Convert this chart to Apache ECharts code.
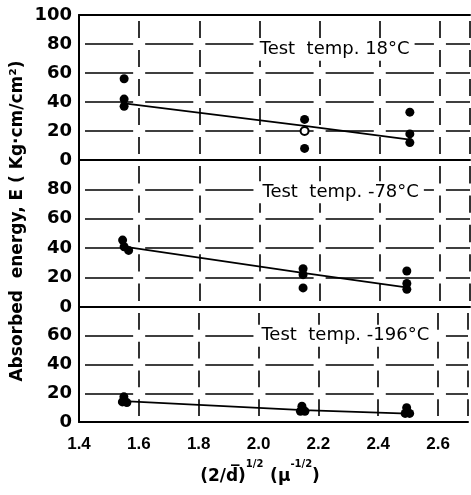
<!DOCTYPE html>
<html><head><meta charset="utf-8">
<script src="https://cdn.jsdelivr.net/npm/echarts@6/dist/echarts.min.js"></script>
<style>html,body{margin:0;padding:0;background:#fff}#c{width:471px;height:495px}</style>
</head><body><div id="c"></div>
<script>
// ---- data ----
const xMin = 1.4, xMax = 2.7, xStep = 0.2;
const panelMax = [100, 100, 80];
const panelTitles = ['Test  temp. 18°C', 'Test  temp. -78°C', 'Test  temp. -196°C'];
const titleX = [2.25, 2.27, 2.29];
const titleY = [76, 78, 60];

const dots18 = [[1.55, 56], [1.55, 42], [1.55, 37], [2.15, 28], [2.15, 8], [2.5, 33], [2.5, 18], [2.5, 12]];
const open18 = [[2.15, 20]];
const fit18 = [[1.55, 39], [2.15, 23.5], [2.5, 14]];

const dots78 = [[1.545, 45.5], [1.55, 41], [1.565, 38.5], [2.145, 26], [2.145, 22], [2.145, 13], [2.49, 24.5], [2.49, 16], [2.49, 12]];
const fit78 = [[1.55, 41], [2.15, 23], [2.5, 13]];

const dots196 = [[1.55, 17.5], [1.545, 14], [1.56, 13.5], [2.145, 11], [2.14, 7.5], [2.155, 7.5], [2.495, 10], [2.49, 6], [2.505, 6]];
const fit196 = [[1.55, 14.5], [2.15, 8.3], [2.5, 5.8]];

// ---- layout ----
const gLeft = 79, gRight = 1;
const grids = [{top: 15, height: 145}, {top: 160, height: 147}, {top: 307, height: 115}];
const gWidth = 471 - gLeft - gRight;
const cellW = gWidth / ((xMax - xMin) / xStep);
const ink = '#000';
const numFont = 'DejaVu Sans';

const option = {
  animation: false,
  backgroundColor: '#fff',
  grid: grids.map(g => ({left: gLeft, right: gRight, top: g.top, height: g.height})),
  xAxis: [],
  yAxis: [],
  series: [],
  graphic: [
    {type: 'text', x: 18, y: 221, rotation: Math.PI / 2, style: {
      text: 'Absorbed  energy, E ( Kg·cm/cm²)', font: 'bold 17px "DejaVu Sans"', fill: ink,
      align: 'center', verticalAlign: 'middle'}},
    {type: 'text', x: 260, y: 472, style: {
      text: '{m|(2/d\u0305)}{s|1/2}  {m|(\u03bc}{s|-1/2}{m|)}',
      align: 'center', verticalAlign: 'middle', fill: ink,
      rich: {
        m: {font: 'bold 17px "DejaVu Sans"', fill: ink, verticalAlign: 'bottom', lineHeight: 26},
        s: {font: 'bold 10px "DejaVu Sans"', fill: ink, verticalAlign: 'top', lineHeight: 26}
      }}}
  ]
};

grids.forEach((g, i) => {
  const max = panelMax[i];
  const cellH = g.height / (max / 20);
  option.xAxis.push({
    type: 'value', gridIndex: i, min: xMin, max: xMax, interval: xStep,
    axisLine: {show: true, onZero: false, lineStyle: {color: ink, width: 2}},
    axisTick: {show: false},
    axisLabel: {show: i === 2, margin: 14, color: ink, fontFamily: 'Liberation Sans', fontWeight: 'bold', fontSize: 17,
      formatter: v => (v > 2.65 ? '' : v.toFixed(1))},
    splitLine: {show: true, lineStyle: {color: ink, width: 1.6, type: [cellH - 12, 12], dashOffset: cellH - 12 + 6}}
  });
  option.yAxis.push({
    type: 'value', gridIndex: i, min: 0, max: max, interval: 20,
    axisLine: {show: true, lineStyle: {color: ink, width: 2}},
    axisTick: {show: false},
    axisLabel: {margin: 7, color: ink, fontFamily: numFont, fontWeight: 'bold', fontSize: 18,
      formatter: v => (i > 0 && v === max ? '' : String(v))},
    splitLine: {show: true, lineStyle: {color: ink, width: 1.6, type: [cellW - 12, 12], dashOffset: cellW - 12 + 6}}
  });
});
// top border of upper panel
option.xAxis.push({type: 'value', gridIndex: 0, position: 'top', min: xMin, max: xMax,
  axisLine: {show: true, onZero: false, lineStyle: {color: ink, width: 2}},
  axisTick: {show: false}, axisLabel: {show: false}, splitLine: {show: false}});

const dotSets = [dots18, dots78, dots196];
const fitSets = [fit18, fit78, fit196];
dotSets.forEach((d, i) => {
  option.series.push({type: 'line', xAxisIndex: i, yAxisIndex: i, data: fitSets[i], showSymbol: false,
    lineStyle: {color: ink, width: 1.8}, z: 3, silent: true});
  option.series.push({type: 'scatter', xAxisIndex: i, yAxisIndex: i, data: d, symbol: 'circle', symbolSize: 9,
    itemStyle: {color: ink, opacity: 1}, z: 4});
  option.series.push({type: 'scatter', xAxisIndex: i, yAxisIndex: i,
    data: [[titleX[i], titleY[i]]], symbolSize: 1, z: 5, silent: true,
    itemStyle: {color: '#fff', opacity: 1},
    label: {show: true, position: 'inside', formatter: panelTitles[i], color: ink,
      fontFamily: 'DejaVu Sans', fontSize: 18, backgroundColor: '#fff', padding: [2, 5]}});
});
option.series.push({type: 'scatter', xAxisIndex: 0, yAxisIndex: 0, data: open18, symbol: 'circle', symbolSize: 8,
  itemStyle: {color: '#fff', borderColor: ink, borderWidth: 2, opacity: 1}, z: 6});

const chart = echarts.init(document.getElementById('c'), null, {renderer: 'canvas'});
chart.setOption(option);
</script></body></html>
